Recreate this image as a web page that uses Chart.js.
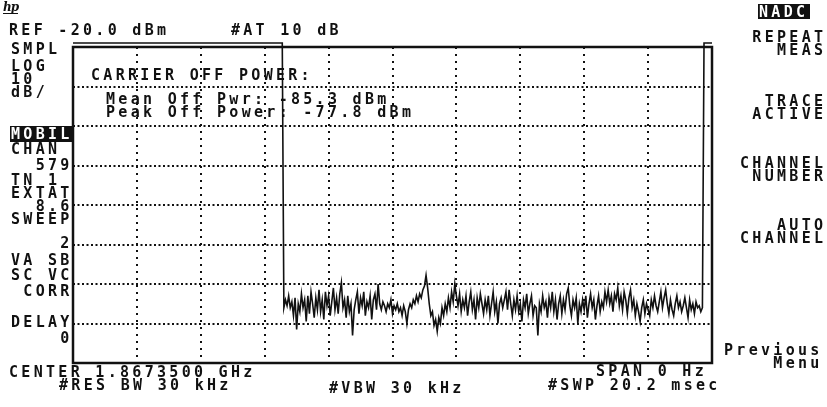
<!DOCTYPE html>
<html>
<head>
<meta charset="utf-8">
<script src="https://cdn.jsdelivr.net/npm/chart.js@4.4.1/dist/chart.umd.min.js"></script>
<style>
  html, body { margin: 0; padding: 0; background: #fff; }
  #wrap { position: relative; width: 827px; height: 407px; overflow: hidden; }
  #scope { position: absolute; left: 0; top: 0; }
  .t { position: absolute; font: bold 15px "DejaVu Sans Mono", monospace; letter-spacing: 3.3px;
       white-space: pre; line-height: 15px; color: #111; }
  .inv { position: absolute; background: #111; }
  .inv .t { color: #fff; }
  .logo { position: absolute; left: 3px; top: 1px; font: italic bold 12px "DejaVu Serif", serif;
          color: #111; border-bottom: 1.5px solid #111; line-height: 12px; letter-spacing: -1px; }
</style>
</head>
<body>
<div id="wrap">
  <canvas id="scope" width="827" height="407"></canvas>
  <div class="logo">hp</div>
</div>
<script>
// Sweep setup (zero span, 20.2 ms sweep, 401 trace points)
const SWEEP_MS = 20.2;
const SWEEP_POINTS = 401;
const REF_DBM = -20;
const DB_PER_DIV = 10;

// burst is above REF, the trace sits clipped just over the top line
const BURST_DISPLAY_DBM = -19;
const burstOnBefore = 132;
const burstOnAfter = 6;

// carrier off part of the trace
const offNoiseDbm = [
  -86, -84, -85.5, -83, -86, -84.5, -88, -83.5, -91.5, -85,
  -87, -82.5, -86, -84, -89.5, -83, -87.5, -82, -85, -88.5,
  -83.5, -86.5, -81.5, -87, -84, -89, -82, -85.5, -83, -88,
  -84.5, -81, -86.5, -83.5, -87.5, -82.5, -79.7, -86, -84, -88.5,
  -83, -87, -85, -93, -86.5, -84, -82, -87.5, -83.5, -85.5,
  -82, -88, -84.5, -86, -83, -89, -84, -82.5, -86.5, -80,
  -85, -86.5, -84.5, -85.5, -87, -85, -86, -84, -87.5, -85.5,
  -86.5, -85, -87, -86, -88, -85.5, -87, -90, -86.5, -85,
  -86, -84, -85, -83, -84.5, -82.5, -83.5, -81.5, -80.5, -77.8,
  -81, -85, -88, -87, -90.5, -89, -92, -88.5, -90, -86,
  -88, -85, -87, -83.5, -86, -82, -84.5, -80, -83, -85.5,
  -82.5, -87, -84, -86, -83, -88, -84.5, -82, -86.5, -84,
  -89, -83.5, -86, -82.5, -85, -87.5, -84, -86.5, -83, -88,
  -85, -82, -87, -84.5, -90, -85, -83.5, -86, -84, -82,
  -86.5, -81.5, -85, -88, -84, -86.5, -83, -87, -85, -89.5,
  -84, -86, -82.5, -87.5, -85, -83, -88, -85.5, -86, -93,
  -85, -87, -83, -86, -84.5, -88.5, -83.5, -86, -82, -87,
  -84, -89, -85, -83, -87.5, -84, -86.5, -82.5, -81, -85.5,
  -88, -84, -86, -83.5, -90, -85, -87, -84, -86.5, -83,
  -88.5, -85, -82.5, -86, -84, -89, -85.5, -83, -87, -84.5,
  -86, -82, -84.5, -81.5, -85, -83, -87, -82.5, -84, -81,
  -85.5, -83, -86.5, -82, -84, -87.5, -83.5, -81.5, -86, -84,
  -88, -85, -87, -89.5, -86, -84, -87.5, -85, -86.5, -88,
  -84, -86, -83, -85.5, -87, -84.5, -82, -86, -83.5, -81.5,
  -85, -87.5, -84, -86.5, -88, -85, -83, -86, -84.5, -87,
  -85.5, -83.5, -86, -88.5, -84, -86.5, -85, -87.5, -84.5, -86,
  -85.5, -87, -86
];

// screen annotations: [text, x, capTop]
const screenText = [
  ["REF -20.0 dBm     #AT 10 dB", 10, 25],
  ["SMPL", 12, 44], ["LOG", 12, 61], ["10", 12, 74], ["dB/", 12, 87],
  ["CHAN", 12, 144], ["  579", 12, 160], ["TN 1", 12, 175], ["EXTAT", 12, 188],
  ["  8.6", 12, 201], ["SWEEP", 12, 214], ["    2", 12, 238], ["VA SB", 12, 255],
  ["SC VC", 12, 270], [" CORR", 12, 286], ["DELAY", 12, 317], ["    0", 12, 333],
  ["CARRIER OFF POWER:", 92, 70],
  ["Mean Off Pwr: -85.3 dBm", 107, 94],
  ["Peak Off Power: -77.8 dBm", 107, 107],
  ["CENTER 1.8673500 GHz", 10, 367],
  ["#RES BW 30 kHz", 60, 380],
  ["#VBW 30 kHz", 330, 383],
  ["SPAN 0 Hz", 597, 366],
  ["#SWP 20.2 msec", 549, 380],
  [" REPEAT", 741, 32], ["   MEAS", 741, 45],
  ["  TRACE", 741, 96], [" ACTIVE", 741, 109],
  ["CHANNEL", 741, 158], [" NUMBER", 741, 171],
  ["   AUTO", 741, 220], ["CHANNEL", 741, 233],
  ["Previous", 725, 345], ["    Menu", 725, 358]
];
// inverse video fields: [text, x, y, w, h]
const inverseText = [
  ["MOBIL", 10, 126, 64, 16],
  ["NADC", 758, 4, 52, 15]
];

const wrap = document.getElementById('wrap');
function addText(parent, str, x, capTop) {
  const s = document.createElement('div');
  s.className = 't';
  s.textContent = str;
  s.style.left = (x - 1) + 'px';
  s.style.top = (capTop - 2) + 'px';
  parent.appendChild(s);
}
screenText.forEach(r => addText(wrap, r[0], r[1], r[2]));
inverseText.forEach(r => {
  const b = document.createElement('div');
  b.className = 'inv';
  b.style.left = r[1] + 'px'; b.style.top = r[2] + 'px';
  b.style.width = r[3] + 'px'; b.style.height = r[4] + 'px';
  wrap.appendChild(b);
  addText(b, r[0], 2, 3);
});

// trace
const levels = []
  .concat(new Array(burstOnBefore).fill(BURST_DISPLAY_DBM))
  .concat(offNoiseDbm)
  .concat(new Array(burstOnAfter).fill(BURST_DISPLAY_DBM));
const trace = levels.map((v, i) => ({ x: i * SWEEP_MS / (SWEEP_POINTS - 1), y: v }));

const framePlugin = {
  id: 'frame',
  beforeDatasetsDraw(chart) {
    const a = chart.chartArea, c = chart.ctx;
    c.save();
    c.strokeStyle = '#111';
    c.lineWidth = 2.5;
    c.strokeRect(a.left, a.top, a.right - a.left, a.bottom - a.top);
    c.restore();
  }
};

new Chart(document.getElementById('scope'), {
  type: 'line',
  data: {
    datasets: [{
      data: trace,
      borderColor: '#111',
      borderWidth: 1.6,
      pointRadius: 0,
      tension: 0,
      clip: 6
    }]
  },
  options: {
    responsive: false,
    animation: false,
    devicePixelRatio: 1,
    layout: { padding: { left: 73, top: 47, right: 115, bottom: 44 } },
    plugins: { legend: { display: false }, tooltip: { enabled: false } },
    scales: {
      x: {
        type: 'linear', min: 0, max: SWEEP_MS,
        afterBuildTicks: s => { s.ticks = Array.from({ length: 11 }, (_, i) => ({ value: i * SWEEP_MS / 10 })); },
        ticks: { display: false },
        grid: { color: '#111', lineWidth: 2, drawTicks: false },
        border: { display: false, dash: [2, 5] }
      },
      y: {
        min: REF_DBM - 8 * DB_PER_DIV, max: REF_DBM,
        ticks: { display: false, stepSize: DB_PER_DIV },
        grid: { color: '#111', lineWidth: 2, drawTicks: false },
        border: { display: false, dash: [2, 2.5] }
      }
    }
  },
  plugins: [framePlugin]
});
</script>
</body>
</html>
